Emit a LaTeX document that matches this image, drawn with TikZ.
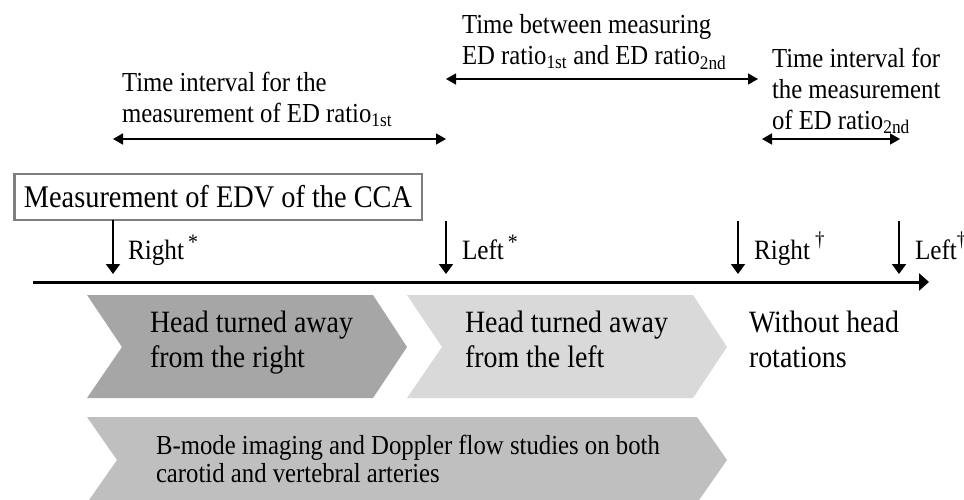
\documentclass[tikz,border=0pt]{standalone}
\usepackage{fontspec}
\setmainfont{Liberation Serif}[FakeStretch=0.9]
\usetikzlibrary{arrows.meta}
\definecolor{chevA}{HTML}{A6A6A6}
\definecolor{chevB}{HTML}{D9D9D9}
\definecolor{chevC}{HTML}{BFBFBF}
\definecolor{boxgray}{HTML}{7F7F7F}
\begin{document}
\begin{tikzpicture}[x=1pt,y=-1pt,
  every node/.style={inner sep=0pt, outer sep=0pt},
  toptxt/.style={anchor=west, align=left, font=\fontsize{27.5}{31}\selectfont},
  chevtxt/.style={anchor=west, align=left, font=\fontsize{31}{35}\selectfont},
  bmtxt/.style={anchor=west, align=left, font=\fontsize{27.5}{28}\selectfont},
  lbl/.style={anchor=base west, font=\fontsize{28}{28}\selectfont},
  dblarrow/.style={line width=1.5pt, {Triangle[length=10pt,width=11pt]}-{Triangle[length=10pt,width=11pt]}},
  downarrow/.style={line width=2pt, -{Triangle[length=10pt,width=14pt]}},
  timeline/.style={line width=3pt, -{Triangle[length=10pt,width=17pt]}},
  cbox/.style={draw=boxgray, line width=2.5pt, fill=white, minimum width=407.5pt, minimum height=45.5pt, font=\fontsize{31.5}{31.5}\selectfont}
]
\useasboundingbox (0,0) rectangle (964,500);

% chevrons
\fill[chevA] (87,295) -- (373,295) -- (407,347) -- (373,398) -- (87,398) -- (122,347) -- cycle;
\fill[chevB] (407,295) -- (693,295) -- (727,347) -- (693,398) -- (407,398) -- (442,347) -- cycle;
\fill[chevC] (87,417) -- (697,417) -- (727,460) -- (697,503) -- (87,503) -- (117,460) -- cycle;

\node[chevtxt] (h1) at (150,343) {\strut Head turned away\\\strut from the right};
\node[chevtxt] (h2) at (465,343) {\strut Head turned away\\\strut from the left};
\node[chevtxt] (h3) at (749,343) {\strut Without head\\\strut rotations};
\node[bmtxt] (bm) at (156,463) {\strut B-mode imaging and Doppler flow studies on both\\\strut carotid and vertebral arteries};

% timeline
\coordinate (tl0) at (33,282);
\coordinate (tl1) at (929,282);
\draw[timeline] (tl0) -- (tl1);

% box
\node[cbox] (cca) at (218,197) {Measurement of EDV of the CCA};

% down arrows
\coordinate (r1) at (113,274);
\coordinate (l1t) at (446,221);
\coordinate (l1) at (446,274);
\coordinate (r2t) at (738,221);
\coordinate (r2) at (738,274);
\coordinate (l2t) at (899,221);
\coordinate (l2) at (899,274);
\draw[downarrow] (cca.south -| r1) -- (r1);
\draw[downarrow] (l1t) -- (l1);
\draw[downarrow] (r2t) -- (r2);
\draw[downarrow] (l2t) -- (l2);

\node[lbl] (lr1) at (128,259) {Right\hspace{4pt}\raisebox{10pt}{\fontsize{22}{22}\selectfont *}};
\node[lbl] (ll1) at (462,259) {Left\hspace{4pt}\raisebox{10pt}{\fontsize{22}{22}\selectfont *}};
\node[lbl] (lr2) at (754,259) {Right\hspace{5pt}\raisebox{13pt}{\fontsize{21}{21}\selectfont †}};
\node[lbl] (ll2) at (915,259) {Left\hspace{0pt}\raisebox{13pt}{\fontsize{21}{21}\selectfont †}};

% top intervals
\coordinate (a1s) at (113,139);
\coordinate (a1e) at (446,139);
\coordinate (a2s) at (446,79);
\coordinate (a2e) at (758,79);
\coordinate (a3s) at (762,139);
\coordinate (a3e) at (900,139);
\draw[dblarrow] (a1s) -- (a1e);
\draw[dblarrow] (a2s) -- (a2e);
\draw[dblarrow] (a3s) -- (a3e);

\node[toptxt] (t1) at (122,99) {Time interval for the\\measurement of ED ratio\textsubscript{1st}};
\node[toptxt] (t2) at (462,42) {Time between measuring\\ED ratio\textsubscript{1st} and ED ratio\textsubscript{2nd}};
\node[toptxt] (t3) at (772,91) {Time interval for\\the measurement\\of ED ratio\textsubscript{2nd}};
\end{tikzpicture}
\end{document}
